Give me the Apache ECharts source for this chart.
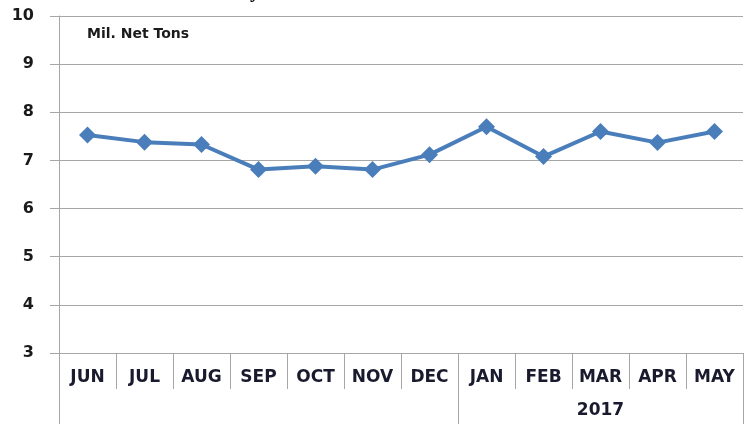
<!DOCTYPE html>
<html>
<head>
<meta charset="utf-8">
<script src="https://cdn.jsdelivr.net/npm/echarts@6/dist/echarts.min.js"></script>
<style>html,body{margin:0;padding:0;background:#fff}#c{width:752px;height:424px}</style>
</head>
<body>
<div id="c"></div>
<script>
var months = ['JUN','JUL','AUG','SEP','OCT','NOV','DEC','JAN','FEB','MAR','APR','MAY'];
var yearLabels = ['','','','','','','','','','2017','',''];
var yearStarts = [0, 7];
var values = [7.53, 7.38, 7.33, 6.81, 6.88, 6.81, 7.12, 7.70, 7.08, 7.60, 7.37, 7.60];
var yMin = 3, yMax = 10, yStep = 1;
var unitLabel = 'Mil. Net Tons';

var gridColor = '#a6a6a6';
var labelFont = 'DejaVu Sans';
var chart = echarts.init(document.getElementById('c'), null, {renderer: 'canvas'});
chart.setOption({
  animation: false,
  title: {
    text: 'Monthly',
    left: 255,
    top: -23,
    textAlign: 'right',
    textStyle: {fontFamily: 'Liberation Serif', fontWeight: 'bold', fontSize: 20, color: '#000'}
  },
  grid: {left: 59, right: 9, top: 16, bottom: 71},
  xAxis: [{
    type: 'category',
    data: months,
    boundaryGap: true,
    axisLine: {show: true, lineStyle: {color: gridColor, width: 1}},
    axisTick: {show: true, length: 36, lineStyle: {color: gridColor, width: 1}},
    axisLabel: {interval: 0, margin: 16, color: '#1a1a2e', fontFamily: labelFont, fontWeight: 'bold', fontSize: 17},
    splitLine: {show: false}
  }, {
    type: 'category',
    data: yearLabels,
    position: 'bottom',
    boundaryGap: true,
    axisLine: {show: false},
    axisTick: {show: true, length: 71, interval: function (i) { return yearStarts.indexOf(i) >= 0; }, lineStyle: {color: gridColor, width: 1}},
    axisLabel: {interval: 0, margin: 49, color: '#1a1a2e', fontFamily: labelFont, fontWeight: 'bold', fontSize: 17},
    splitLine: {show: false}
  }],
  yAxis: {
    type: 'value',
    min: yMin, max: yMax, interval: yStep,
    axisLine: {show: true, lineStyle: {color: gridColor, width: 1}},
    axisTick: {show: true, length: 9, lineStyle: {color: gridColor}},
    axisLabel: {margin: 25, color: '#1a1a1a', fontFamily: labelFont, fontWeight: 'bold', fontSize: 16},
    splitLine: {show: true, lineStyle: {color: gridColor, width: 1}}
  },
  series: [{
    type: 'line',
    data: values,
    symbol: 'diamond',
    symbolSize: 17,
    lineStyle: {color: '#4a7ebb', width: 4},
    itemStyle: {color: '#4a7ebb'},
    label: {show: false}
  }],
  graphic: [{
    type: 'text',
    left: 87, top: 27,
    style: {text: unitLabel, fontFamily: labelFont, fontWeight: 'bold', fontSize: 14, fill: '#1a1a1a'}
  }]
});
</script>
</body>
</html>
